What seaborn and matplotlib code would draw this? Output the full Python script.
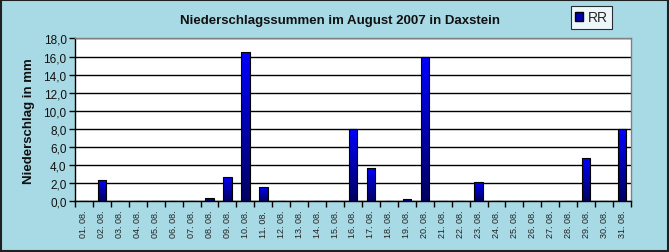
import numpy as np
import pandas as pd
import matplotlib
matplotlib.use("Agg")
import matplotlib.pyplot as plt
import seaborn as sns
from matplotlib.patches import Rectangle, Patch
from matplotlib.ticker import FixedLocator, FuncFormatter

days = [f"{d:02d}. 08." for d in range(1, 32)]
rain = [0.0, 2.4, 0.0, 0.0, 0.0, 0.0, 0.0, 0.4, 2.7, 16.5, 1.6, 0.0, 0.0, 0.0, 0.0, 8.0,
        3.7, 0.0, 0.3, 15.9, 0.0, 0.0, 2.1, 0.0, 0.0, 0.0, 0.0, 0.0, 4.8, 0.0, 8.0]
yticks = [0, 2, 4, 6, 8, 10, 12, 14, 16, 18]
title = "Niederschlagssummen im August 2007 in Daxstein"
ylabel = "Niederschlag in mm"
series = "RR"

df = pd.DataFrame({"day": days, "RR": rain})

sns.set_theme(style="white")
plt.rcParams["font.family"] = ["Liberation Sans Narrow", "Liberation Sans", "DejaVu Sans"]

bg = "#a8dae6"
fig = plt.figure(figsize=(6.69, 2.53), dpi=100, facecolor=bg)
ax = fig.add_axes([0.1121, 0.2, 0.8311, 0.6439])
ax.set_facecolor("white")

sns.barplot(data=df, x="day", y="RR", ax=ax, color="#0000ff", width=0.47,
            edgecolor="black", linewidth=0.8, saturation=1, zorder=3)

# gradient fill in bars
grad = np.linspace(0, 1, 256).reshape(-1, 1)
cmap = matplotlib.colors.LinearSegmentedColormap.from_list("g", ["#000060", "#0000ff"])
for p in list(ax.patches):
    h = p.get_height()
    if h <= 0:
        continue
    x0, w = p.get_x(), p.get_width()
    im = ax.imshow(grad, extent=[x0, x0 + w, 0, h], origin="lower", cmap=cmap,
                   aspect="auto", zorder=3.5)
    im.set_clip_path(p)
    p.set_facecolor("none")
    p.set_zorder(4)

ax.set_xlim(-0.5, len(days) - 0.5)
ax.set_ylim(0, 18)
ax.set_yticks(yticks)
ax.yaxis.set_major_formatter(FuncFormatter(lambda v, pos: f"{v:.1f}".replace(".", ",")))
ax.yaxis.grid(True, color="black", linewidth=1.0, zorder=1)
ax.set_axisbelow(True)

ax.set_xticks(range(len(days)))
ax.set_xticklabels(days, rotation=90, fontsize=6.5, color="#222222")
ax.xaxis.set_minor_locator(FixedLocator(np.arange(-0.5, len(days), 1.0)))
ax.tick_params(axis="x", which="major", length=0, pad=6)
ax.tick_params(axis="x", which="minor", length=4, width=1, color="black", direction="out", bottom=True)
ax.tick_params(axis="y", which="major", length=4, width=1, color="black", direction="out",
               left=True, labelsize=8.5, pad=2, labelcolor="#111111")

for s in ["left", "bottom"]:
    ax.spines[s].set_color("black")
    ax.spines[s].set_linewidth(1.0)
for s in ["top", "right"]:
    ax.spines[s].set_color("#808080")
    ax.spines[s].set_linewidth(1.0)

ax.set_xlabel("")
ax.set_ylabel(ylabel, fontsize=9.5, fontweight="bold", labelpad=6, color="#111111")

fig.text(0.508, 0.916, title, ha="center", va="center", fontsize=9.5, fontweight="bold",
         color="#111111")

# legend
leg = fig.legend(handles=[Patch(facecolor="#0000b0", edgecolor="black", label=series)],
                 loc="center", bbox_to_anchor=(0.884, 0.927), frameon=True, fontsize=10,
                 handlelength=0.6, handleheight=0.6, handletextpad=0.3, borderpad=0.3,
                 fancybox=False, borderaxespad=0)
leg.get_frame().set_edgecolor("black")
leg.get_frame().set_linewidth(0.8)
leg.get_frame().set_facecolor("white")

# outer frame
fig.patches.append(Rectangle((0.0015, 0.003), 0.997, 0.994, transform=fig.transFigure,
                             fill=False, edgecolor="#202020", linewidth=1.5))

fig.savefig("out.png", dpi=100, facecolor=bg)
